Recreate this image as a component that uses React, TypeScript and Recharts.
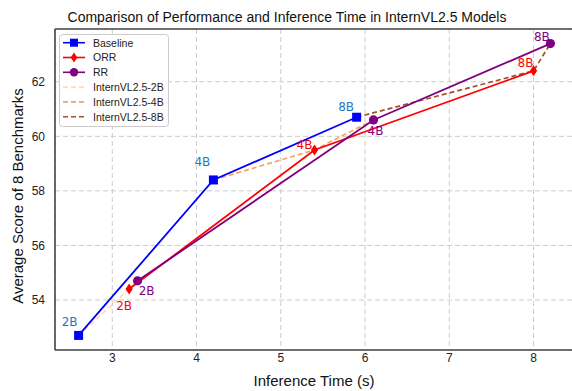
import React from 'react';
import { ComposedChart, Line, XAxis, YAxis, CartesianGrid, LabelList, ReferenceLine } from 'recharts';

const modelSizes = ['2B', '4B', '8B'];
const baselineTime = [2.6, 4.2, 5.9];
const baselineScore = [52.7, 58.4, 60.7];
const orrTime = [3.2, 5.4, 8.0];
const orrScore = [54.4, 59.5, 62.4];
const rrTime = [3.3, 6.1, 8.2];
const rrScore = [54.7, 60.6, 63.4];
const xTicks = [3, 4, 5, 6, 7, 8];
const yTicks = [54, 56, 58, 60, 62];
const xDomain = [2.32, 8.48];
const yDomain = [52.165, 63.935];
const modelLineNames = ['InternVL2.5-2B', 'InternVL2.5-4B', 'InternVL2.5-8B'];

const build = (t: number[], s: number[]) => t.map((x, i) => ({ x, y: s[i], label: modelSizes[i] }));
const baselineData = build(baselineTime, baselineScore);
const orrData = build(orrTime, orrScore);
const rrData = build(rrTime, rrScore);
const modelData = modelSizes.map((_, i) => [
  { x: baselineTime[i], y: baselineScore[i] },
  { x: orrTime[i], y: orrScore[i] },
  { x: rrTime[i], y: rrScore[i] },
]);

// styles
const BLUE = '#0000ff';
const RED = '#ff0000';
const PURPLE = '#800080';
const LABEL_BLUE = '#1f77c8';
const dashColors = ['#ffdab9', '#f4a460', '#a0522d'];
const labelOffsets: Record<string, number[][]> = {
  baseline: [[-9, -13], [-11, -18], [-10.5, -10]],
  orr: [[-5, 17], [-10, -5], [-8, -8]],
  rr: [[9, 10], [2, 11], [-8.5, -7]],
};
const SANS = '"Liberation Sans", Arial, sans-serif';
const DEJAVU = '"DejaVu Sans", sans-serif';

const Square = (props: any) => {
  const { cx, cy, index } = props;
  if (cx == null || cy == null) return <g key={`s${index}`} />;
  return <rect key={`s${index}`} x={cx - 4.5} y={cy - 4.5} width={9} height={9} fill={BLUE} />;
};
const Diamond = (props: any) => {
  const { cx, cy, index } = props;
  if (cx == null || cy == null) return <g key={`d${index}`} />;
  return (
    <polygon
      key={`d${index}`}
      points={`${cx},${cy - 5.5} ${cx + 3.6},${cy} ${cx},${cy + 5.5} ${cx - 3.6},${cy}`}
      fill={RED}
    />
  );
};
const Circle = (props: any) => {
  const { cx, cy, index } = props;
  if (cx == null || cy == null) return <g key={`c${index}`} />;
  return <circle key={`c${index}`} cx={cx} cy={cy} r={4.6} fill={PURPLE} />;
};

const makeLabel = (series: string, color: string) => (props: any) => {
  const { x, y, value, index } = props;
  const off = labelOffsets[series][index] || [0, 0];
  return (
    <text
      key={`${series}-${index}`}
      x={x + off[0]}
      y={y + off[1]}
      textAnchor="middle"
      dominantBaseline="central"
      fill={color}
      fontSize={12}
      fontFamily={DEJAVU}
    >
      {value}
    </text>
  );
};

const legendItems = [
  { name: 'Baseline', color: BLUE, marker: 'square', dash: undefined as string | undefined },
  { name: 'ORR', color: RED, marker: 'diamond', dash: undefined },
  { name: 'RR', color: PURPLE, marker: 'circle', dash: undefined },
  ...modelLineNames.map((n, i) => ({ name: n, color: dashColors[i], marker: 'none', dash: '5 3' })),
];

export default function App() {
  return (
    <div style={{ position: 'absolute', left: 0, top: 0, width: 572, height: 391, overflow: 'hidden', background: '#fff' }}>
      <ComposedChart width={575} height={391} margin={{ top: 29, right: 1, left: 0, bottom: 11 }}>
        <CartesianGrid stroke="#cccccc" strokeDasharray="5 3" strokeWidth={1} />
        <XAxis
          type="number"
          dataKey="x"
          domain={xDomain}
          ticks={xTicks}
          allowDataOverflow
          height={30}
          tickLine={false}
          tickSize={2}
          tickMargin={1}
          axisLine={{ stroke: '#444', strokeWidth: 1.6 }}
          tick={{ fill: '#222', fontSize: 12, fontFamily: SANS }}
        />
        <YAxis
          type="number"
          dataKey="y"
          domain={yDomain}
          ticks={yTicks}
          allowDataOverflow
          width={55}
          tickLine={false}
          tickSize={6}
          tickMargin={4}
          axisLine={{ stroke: '#444', strokeWidth: 1.6 }}
          tick={{ fill: '#222', fontSize: 12, fontFamily: SANS }}
        />
        <ReferenceLine y={yDomain[1]} stroke="#444" strokeWidth={1.6} />
        {modelData.map((d, i) => (
          <Line
            key={modelLineNames[i]}
            data={d}
            dataKey="y"
            type="linear"
            stroke={dashColors[i]}
            strokeWidth={1.7}
            strokeDasharray="5 3"
            dot={false}
            activeDot={false}
            isAnimationActive={false}
          />
        ))}
        <Line data={baselineData} dataKey="y" type="linear" stroke={BLUE} strokeWidth={1.8} dot={Square} activeDot={false} isAnimationActive={false}>
          <LabelList dataKey="label" content={makeLabel('baseline', LABEL_BLUE)} />
        </Line>
        <Line data={orrData} dataKey="y" type="linear" stroke={RED} strokeWidth={1.8} dot={Diamond} activeDot={false} isAnimationActive={false}>
          <LabelList dataKey="label" content={makeLabel('orr', RED)} />
        </Line>
        <Line data={rrData} dataKey="y" type="linear" stroke={PURPLE} strokeWidth={1.8} dot={Circle} activeDot={false} isAnimationActive={false}>
          <LabelList dataKey="label" content={makeLabel('rr', PURPLE)} />
        </Line>
      </ComposedChart>
      <svg width={572} height={391} style={{ position: 'absolute', left: 0, top: 0, pointerEvents: 'none' }}>
        <text x={287} y={21.5} textAnchor="middle" fontSize={14} fontFamily={SANS} fill="#111">
          Comparison of Performance and Inference Time in InternVL2.5 Models
        </text>
        <text x={314} y={386} textAnchor="middle" fontSize={15} fontFamily={SANS} fill="#111">
          Inference Time (s)
        </text>
        <text x={22.5} y={196} textAnchor="middle" fontSize={15} fontFamily={SANS} fill="#111" transform="rotate(-90 22.5 196)">
          Average Score of 8 Benchmarks
        </text>
        <g>
          <rect x={59.5} y={34.5} width={109} height={92} rx={3} fill="rgba(255,255,255,0.85)" stroke="#cccccc" strokeWidth={1} />
          {legendItems.map((it, i) => {
            const cy = 42.7 + i * 14.8;
            return (
              <g key={it.name}>
                <line x1={63} x2={85} y1={cy} y2={cy} stroke={it.color} strokeWidth={1.6} strokeDasharray={it.dash} />
                {it.marker === 'square' && <rect x={70} y={cy - 4} width={8} height={8} fill={it.color} />}
                {it.marker === 'diamond' && (
                  <polygon points={`74,${cy - 5} 77.3,${cy} 74,${cy + 5} 70.7,${cy}`} fill={it.color} />
                )}
                {it.marker === 'circle' && <circle cx={74} cy={cy} r={4.2} fill={it.color} />}
                <text x={93} y={cy + 3.8} fontSize={10.5} fontFamily={SANS} fill="#222">
                  {it.name}
                </text>
              </g>
            );
          })}
        </g>
      </svg>
    </div>
  );
}
